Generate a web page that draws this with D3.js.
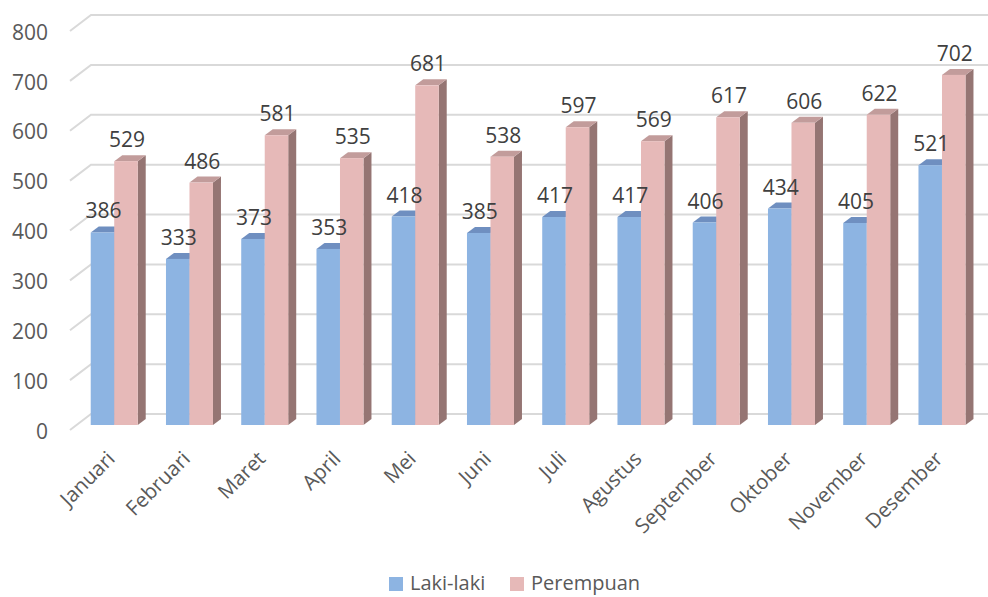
<!DOCTYPE html>
<html>
<head>
<meta charset="utf-8">
<script src="https://cdn.jsdelivr.net/npm/d3@7"></script>
<style>
  html, body { margin: 0; padding: 0; background: #fff; }
  svg { display: block; }
  text { font-family: "Open Sans", sans-serif; }
</style>
</head>
<body>
<svg id="chart" width="988" height="597"></svg>
<script>
const categories = ["Januari", "Februari", "Maret", "April", "Mei", "Juni", "Juli", "Agustus", "September", "Oktober", "November", "Desember"];
const seriesNames = ["Laki-laki", "Perempuan"];
const lakiLaki = [386, 333, 373, 353, 418, 385, 417, 417, 406, 434, 405, 521];
const perempuan = [529, 486, 581, 535, 681, 538, 597, 569, 617, 606, 622, 702];
const yTicks = [0, 100, 200, 300, 400, 500, 600, 700, 800];

const colors = {
  front: ["#8DB4E2", "#E6B9B8"],
  top:   ["#6F8FC0", "#C29C9B"],
  side:  ["#6F8FC0", "#957573"]
};

const svg = d3.select("#chart");
const W = 988;
const floorY = 425;          // bar plane baseline
const dX = 8, dY = -6;       // bar depth offset
const frontOff = {x: -6.6, y: 5};   // front edge of floor relative to bar plane
const backOff  = {x: 14.4, y: -11}; // back wall relative to bar plane

const x = d3.scaleBand().domain(categories)
  .range([76.6, 76.6 + 12 * 75.25])
  .paddingInner(0.3755).paddingOuter(0.3755 / 2);
const xs = d3.scaleBand().domain([0, 1]).range([0, x.bandwidth()]);
const y = d3.scaleLinear().domain([0, 800]).range([floorY, 26]);

// gridlines (3D wall)
const grid = svg.append("g");
yTicks.forEach(v => {
  const yb = y(v);
  grid.append("path")
    .attr("d", `M${76.6 + frontOff.x},${yb + frontOff.y} L${76.6 + backOff.x},${yb + backOff.y} L${W},${yb + backOff.y}`)
    .attr("fill", "none").attr("stroke", "#D9D9D9").attr("stroke-width", 2);
});

// y axis labels
svg.append("g").selectAll("text").data(yTicks).join("text")
  .attr("x", 48).attr("y", d => y(d) + frontOff.y + 3)
  .attr("text-anchor", "end").attr("dominant-baseline", "middle")
  .attr("font-size", 21).attr("fill", "#595959")
  .text(d => d);

// bars
const data = categories.map((c, i) => ({c, vals: [lakiLaki[i], perempuan[i]]}));
const bars = svg.append("g");
data.forEach(d => {
  d.vals.forEach((v, s) => {
    const x0 = x(d.c) + xs(s), bw = xs.bandwidth(), yt = y(v);
    const g = bars.append("g");
    g.append("path").attr("fill", colors.side[s])
      .attr("d", `M${x0 + bw},${yt} L${x0 + bw + dX},${yt + dY} L${x0 + bw + dX},${floorY + dY} L${x0 + bw},${floorY} Z`);
    g.append("path").attr("fill", colors.top[s])
      .attr("d", `M${x0},${yt} L${x0 + bw},${yt} L${x0 + bw + dX},${yt + dY} L${x0 + dX},${yt + dY} Z`);
    g.append("rect").attr("fill", colors.front[s])
      .attr("x", x0).attr("y", yt).attr("width", bw).attr("height", floorY - yt);
  });
});

// data labels
const labels = svg.append("g");
data.forEach(d => {
  d.vals.forEach((v, s) => {
    labels.append("text")
      .attr("x", x(d.c) + xs(s) + xs.bandwidth() / 2 + 1)
      .attr("y", y(v) - 14)
      .attr("text-anchor", "middle")
      .attr("font-size", 21).attr("fill", "#404040")
      .text(v);
  });
});

// category labels
svg.append("g").selectAll("text").data(categories).join("text")
  .attr("transform", c => `translate(${x(c) + x.bandwidth() / 2 + 2},${460}) rotate(-45)`)
  .attr("text-anchor", "end")
  .attr("font-size", 20.5).attr("fill", "#595959")
  .text(c => c);

// legend
const legend = svg.append("g");
const legendItems = [{name: seriesNames[0], x: 389, color: colors.front[0]}, {name: seriesNames[1], x: 510, color: colors.front[1]}];
legendItems.forEach(it => {
  legend.append("rect").attr("x", it.x).attr("y", 577).attr("width", 14).attr("height", 14).attr("fill", it.color);
  legend.append("text").attr("x", it.x + 21).attr("y", 590)
    .attr("font-size", 20).attr("fill", "#595959").text(it.name);
});
</script>
</body>
</html>
